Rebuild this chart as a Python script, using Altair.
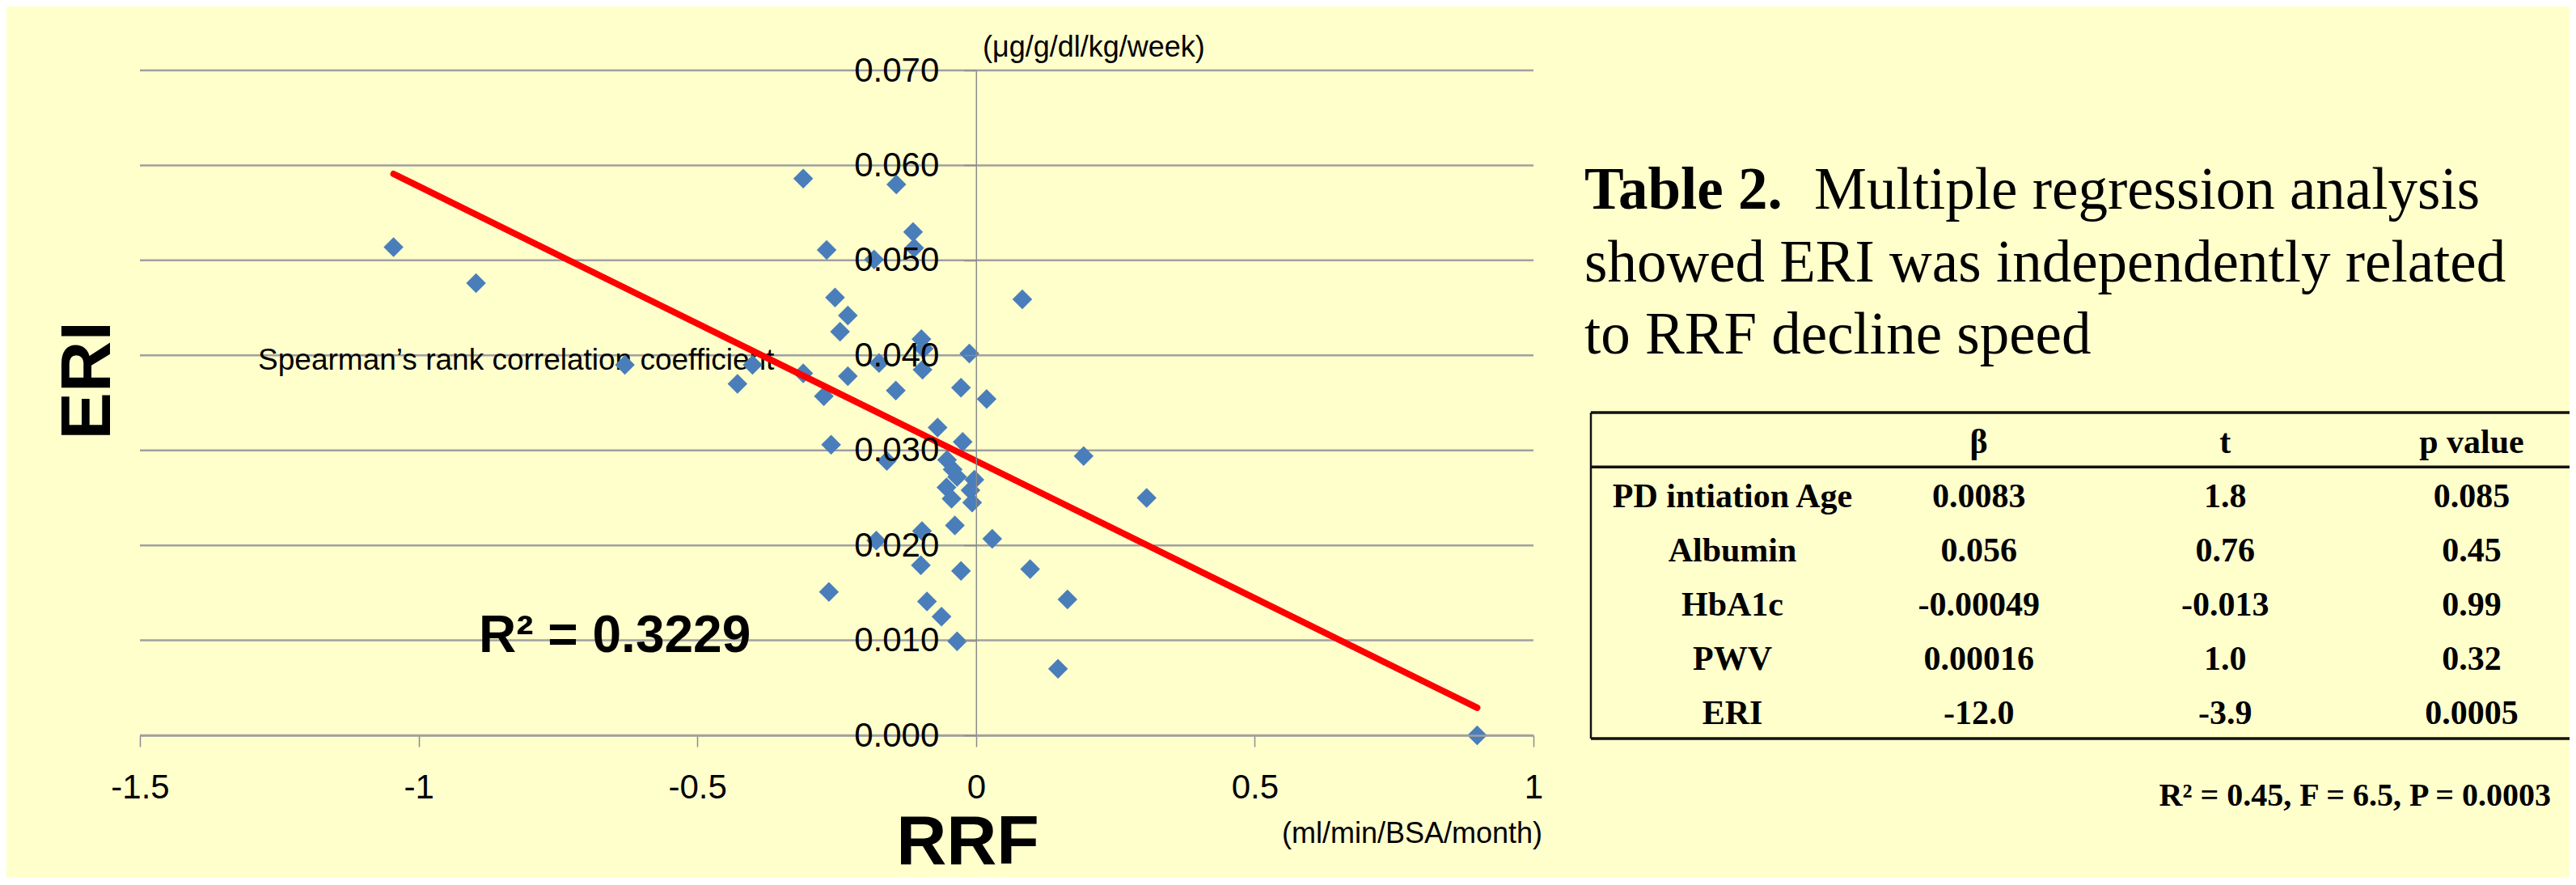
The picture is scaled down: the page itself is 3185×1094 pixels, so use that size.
import altair as alt
import pandas as pd

# ---------------- data ----------------
rrf = [-1.045, -0.897, -0.630, -0.428, -0.401, -0.310, -0.310, -0.273, -0.268, -0.260,
       -0.264, -0.253, -0.244, -0.230, -0.230, -0.183, -0.179, -0.174, -0.160, -0.144,
       -0.143, -0.113, -0.111, -0.098, -0.094, -0.096, -0.097, -0.099, -0.088, -0.069,
       -0.062, -0.052, -0.053, -0.044, -0.042, -0.038, -0.034, -0.034, -0.027, -0.027,
       -0.024, -0.012, -0.010, -0.007, -0.003, 0.019, 0.029, 0.083, 0.097, 0.147,
       0.164, 0.193, 0.306, 0.899]
eri = [0.0514, 0.0476, 0.0390, 0.0370, 0.0390, 0.0586, 0.0381, 0.0357, 0.0511, 0.0306,
       0.0151, 0.0461, 0.0425, 0.0442, 0.0378, 0.0501, 0.0205, 0.0392, 0.0289, 0.0363,
       0.0580, 0.0530, 0.0513, 0.0417, 0.0407, 0.0385, 0.0215, 0.0179, 0.0141, 0.0324,
       0.0125, 0.0290, 0.0261, 0.0249, 0.0280, 0.0221, 0.0272, 0.0099, 0.0366, 0.0173,
       0.0309, 0.0402, 0.0258, 0.0245, 0.0269, 0.0354, 0.0207, 0.0459, 0.0175, 0.0070,
       0.0143, 0.0294, 0.0250, 0.0000]

trend_rrf = [-1.045, 0.899]
trend_eri = [0.0591, 0.0029]

x_ticks = [-1.5, -1, -0.5, 0, 0.5, 1]
y_ticks = [0.0, 0.01, 0.02, 0.03, 0.04, 0.05, 0.06, 0.07]

r2_label = "R\u00b2 = 0.3229"
spearman_label = "Spearman\u2019s rank correlation coefficient"
y_unit = "(\u03bcg/g/dl/kg/week)"
x_unit = "(ml/min/BSA/month)"

caption_bold = "Table 2."
caption_rest = "Multiple regression analysis"
caption_more = ["showed ERI was independently related", "to RRF decline speed"]

col_keys = ["name", "beta", "t", "p"]
table_header = ["", "\u03b2", "t", "p value"]
table_vars = ["PD intiation Age", "Albumin", "HbA1c", "PWV", "ERI"]
beta = ["0.0083", "0.056", "-0.00049", "0.00016", "-12.0"]
tval = ["1.8", "0.76", "-0.013", "1.0", "-3.9"]
pval = ["0.085", "0.45", "0.99", "0.32", "0.0005"]
table_hlines = [0, 1, 6]
stats_label = "R\u00b2 = 0.45, F = 6.5, P = 0.0003"

# ---------------- style ----------------
W, H = 1723, 822
BG = "#FFFFCC"
BLUE = "#4A7EBB"
GRID = "#A0A0A0"
AXC = "#8C8C8C"
SANS = "Liberation Sans"
SERIF = "Liberation Serif"


def xsc():
    return alt.Scale(domain=[-1.5, 1], nice=False, zero=False)


def ysc():
    return alt.Scale(domain=[0, 0.07], nice=False, zero=False)


pts = pd.DataFrame({"RRF": rrf, "ERI": eri})
trend = pd.DataFrame({"RRF": trend_rrf, "ERI": trend_eri})

x_axis = alt.Axis(
    values=x_ticks, labelExpr="'' + datum.value", grid=False, orient="bottom",
    labelFont=SANS, labelFontSize=42, labelColor="black", labelPadding=30,
    labelFlush=False, labelOverlap=False,
    ticks=True, tickSize=14, tickColor=AXC, tickWidth=1.5,
    domain=True, domainColor=GRID, domainWidth=2.5,
    title="RRF", titleFont=SANS, titleFontSize=86, titleFontWeight="bold",
    titleColor="black", titleX=1023, titleY=158, titleAlign="center",
    titleBaseline="alphabetic", zindex=1)

y_axis = alt.Axis(
    values=y_ticks, format=".3f", grid=False, orient="left", offset=-0.6 * W,
    labelFont=SANS, labelFontSize=42, labelColor="black", labelPadding=31,
    labelFlush=False, labelOverlap=False,
    ticks=True, tickSize=15, tickColor=AXC, tickWidth=1.5,
    domain=True, domainColor=AXC, domainWidth=1.5,
    title="ERI", titleFont=SANS, titleFontSize=88, titleFontWeight="bold",
    titleColor="black", titleAngle=270, titleX=-1097, titleY=383,
    titleAlign="center", titleBaseline="middle", zindex=1)

grid = alt.Chart(pd.DataFrame({"g": y_ticks})).mark_rule(
    color=GRID, strokeWidth=2.5).encode(y=alt.Y("g:Q", scale=ysc(), axis=None))


def dlabel(text, x, y, **mk):
    return alt.Chart(pd.DataFrame({"t": [text]})).mark_text(**mk).encode(
        x=alt.XDatum(x, scale=xsc(), axis=None),
        y=alt.YDatum(y, scale=ysc(), axis=None),
        text="t:N")


def plabel(text, x, y, **mk):
    return alt.Chart(pd.DataFrame({"t": [0]})).mark_text(**mk).encode(
        x=alt.value(x), y=alt.value(y), text=alt.value(text))


spearman = dlabel(spearman_label, -1.288, 0.0385, font=SANS, fontSize=37,
                  align="left", baseline="alphabetic", color="black")

points = alt.Chart(pts).mark_point(
    shape="diamond", filled=True, size=600, color=BLUE, opacity=1, strokeWidth=0
).encode(
    x=alt.X("RRF:Q", scale=xsc(), axis=x_axis),
    y=alt.Y("ERI:Q", scale=ysc(), axis=y_axis),
)

trend_line = alt.Chart(trend).mark_line(
    color="#FF0000", strokeWidth=8, strokeCap="round"
).encode(x=alt.X("RRF:Q", scale=xsc(), axis=None),
         y=alt.Y("ERI:Q", scale=ysc(), axis=None))

r2 = dlabel(r2_label, -0.892, 0.00877, font=SANS, fontSize=64, fontWeight="bold",
            align="left", baseline="alphabetic", color="black")
yunit = dlabel(y_unit, 0.0119, 0.07145, font=SANS, fontSize=36,
               align="left", baseline="alphabetic", color="black")
xunit = dlabel(x_unit, 1.016, -0.0113, font=SANS, fontSize=36,
               align="right", baseline="alphabetic", color="black")

cap1 = plabel(caption_bold, 1786, 171, font=SERIF, fontSize=73, fontWeight="bold",
              align="left", baseline="alphabetic", color="black")
cap2 = plabel(caption_rest, 2070, 171, font=SERIF, fontSize=73,
              align="left", baseline="alphabetic", color="black")
cap3 = plabel(caption_more, 1786, 261, font=SERIF, fontSize=73, lineHeight=89,
              align="left", baseline="alphabetic", color="black")
stats = plabel(stats_label, 2981, 909, font=SERIF, fontSize=40, fontWeight="bold",
               align="right", baseline="alphabetic", color="black")

# ---------------- table ----------------
cells = []
for c, h in zip(col_keys, table_header):
    cells.append({"row": 0, "col": c, "txt": h})
for i, vals in enumerate(zip(table_vars, beta, tval, pval), start=1):
    for c, v in zip(col_keys, vals):
        cells.append({"row": i, "col": c, "txt": v})
cells_df = pd.DataFrame(cells)


def tsy():
    return alt.Scale(domain=[0, 6], range=[423, 826], nice=False, zero=False)


tscale_x = alt.Scale(type="point", domain=col_keys, range=[1969, 2883], padding=0)

table_text = alt.Chart(cells_df).transform_calculate(
    mid="datum.row + 0.5"
).mark_text(
    font=SERIF, fontSize=42, fontWeight="bold", align="center",
    baseline="alphabetic", dy=16, color="black"
).encode(
    x=alt.X("col:N", scale=tscale_x, axis=None),
    y=alt.Y("mid:Q", scale=tsy(), axis=None),
    text="txt:N",
)

hlines = alt.Chart(pd.DataFrame({"b": table_hlines})).mark_rule(
    color="#111111", strokeWidth=3.5
).encode(y=alt.Y("b:Q", scale=tsy(), axis=None), x=alt.value(1794), x2=alt.value(3030))

vline = alt.Chart(pd.DataFrame({"b0": [table_hlines[0]], "b1": [table_hlines[-1]]})).mark_rule(
    color="#111111", strokeWidth=2.5
).encode(x=alt.value(1794), y=alt.Y("b0:Q", scale=tsy(), axis=None), y2="b1:Q")

chart = alt.layer(
    grid, spearman, points, trend_line, r2, yunit, xunit,
    cap1, cap2, cap3, stats, hlines, vline, table_text
).resolve_scale(
    x="independent", y="independent"
).properties(
    width=W, height=H,
    padding={"left": 165, "top": 79, "right": 1281, "bottom": 176},
    autosize=alt.AutoSizeParams(type="none"),
).configure(background=BG, font=SANS).configure_view(stroke=None)

chart.save("out.html", embed_options={"renderer": "svg", "actions": False})
